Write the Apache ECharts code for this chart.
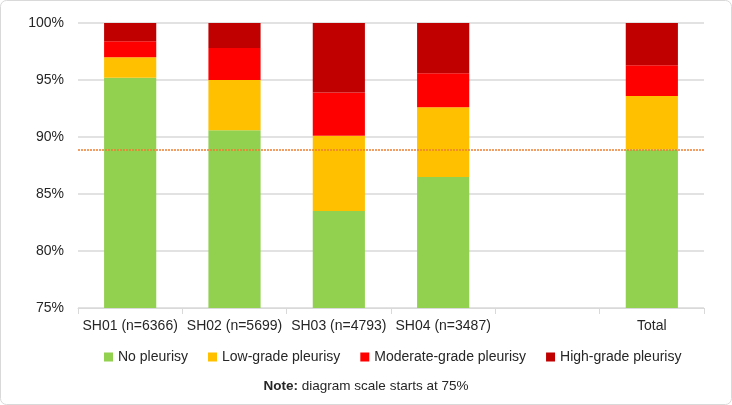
<!DOCTYPE html>
<html>
<head>
<meta charset="utf-8">
<script src="https://cdn.jsdelivr.net/npm/echarts@6/dist/echarts.min.js"></script>
<style>
  html, body { margin: 0; padding: 0; background: #fff; }
  #container { width: 732px; height: 405px; }
</style>
</head>
<body>
<div id="container"></div>
<script>
var categories = ['SH01 (n=6366)', 'SH02 (n=5699)', 'SH03 (n=4793)', 'SH04 (n=3487)', '', 'Total'];
var noPleurisy = [95.2, 90.6, 83.5, 86.5, '-', 88.9];
var lowGrade = [1.8, 4.4, 6.6, 6.1, '-', 4.7];
var moderateGrade = [1.4, 2.8, 3.8, 3.0, '-', 2.7];
var highGrade = [1.6, 2.2, 6.1, 4.4, '-', 3.7];
var totalLine = 88.9;

var dom = document.getElementById('container');
var myChart = echarts.init(dom, null, { renderer: 'canvas' });

var font = 'Liberation Sans';
var textColor = '#262626';

function barSeries(name, data, color) {
    return {
        name: name,
        type: 'bar',
        stack: 'all',
        barWidth: '50%',
        data: data,
        itemStyle: { color: color },
        emphasis: { disabled: true }
    };
}

var series = [
    barSeries('No pleurisy', noPleurisy, '#92D050'),
    barSeries('Low-grade pleurisy', lowGrade, '#FFC000'),
    barSeries('Moderate-grade pleurisy', moderateGrade, '#FF0000'),
    barSeries('High-grade pleurisy', highGrade, '#C00000')
];
// dotted reference line at the overall no-pleurisy share
series[3].markLine = {
    silent: true,
    symbol: 'none',
    label: { show: false },
    lineStyle: { color: '#ED7D31', type: [2, 1], width: 1.5 },
    data: [{ yAxis: totalLine }]
};

var option = {
    animation: false,
    textStyle: { fontFamily: font },
    graphic: [{
        type: 'rect',
        shape: { x: 0.5, y: 0.5, width: 731, height: 404, r: 6 },
        style: { fill: 'none', stroke: '#d9d9d9', lineWidth: 1 },
        silent: true
    }],
    title: {
        text: '{b|Note:} diagram scale starts at 75%',
        left: 'center',
        top: 374,
        textStyle: {
            fontFamily: font,
            fontSize: 13.5,
            fontWeight: 'normal',
            color: textColor,
            rich: {
                b: { fontFamily: font, fontSize: 13.5, fontWeight: 'bold', color: textColor }
            }
        }
    },
    legend: {
        top: 345,
        left: 99,
        icon: 'rect',
        itemWidth: 9,
        itemHeight: 9,
        itemGap: 20,
        textStyle: { fontFamily: font, fontSize: 14, color: textColor },
        data: ['No pleurisy', 'Low-grade pleurisy', 'Moderate-grade pleurisy', 'High-grade pleurisy']
    },
    grid: { left: 78, right: 28, top: 23, bottom: 97 },
    xAxis: {
        type: 'category',
        data: categories,
        axisLine: { lineStyle: { color: '#d9d9d9' } },
        axisTick: { show: true, length: 6, lineStyle: { color: '#d9d9d9' } },
        axisLabel: { color: textColor, fontSize: 14, margin: 11, interval: 0 }
    },
    yAxis: {
        type: 'value',
        min: 75,
        max: 100,
        interval: 5,
        axisLine: { show: false },
        axisTick: { show: false },
        axisLabel: { formatter: '{value}%', color: textColor, fontSize: 14, margin: 14 },
        splitLine: { lineStyle: { color: '#d9d9d9', width: 1.5 } }
    },
    series: series
};

myChart.setOption(option);
window.addEventListener('resize', myChart.resize);
</script>
</body>
</html>
